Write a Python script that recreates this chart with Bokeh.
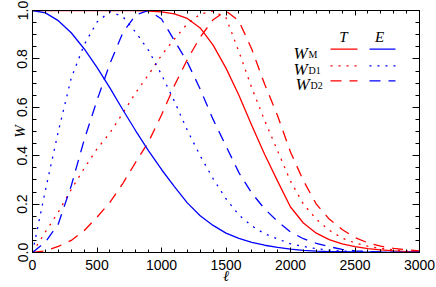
import math
from bokeh.plotting import figure
from bokeh.models import Range1d, LinearAxis, SingleIntervalTicker, PrintfTickFormatter, Label
from bokeh.embed import file_html
from bokeh.resources import INLINE

# ---------------- data ----------------
ell = [0, 100, 200, 300, 400, 500, 600, 700, 800, 900, 1000,
       1100, 1200, 1300, 1400, 1500, 1600, 1700, 1800, 1900, 2000,
       2100, 2200, 2300, 2400, 2500, 2600, 2700, 2800, 2900, 3000]

# T (red)
T_M = [1.0, 1.0, 1.0, 1.0, 1.0, 1.0, 1.0, 1.0, 1.0, 0.998, 0.994,
       0.986, 0.967, 0.928, 0.857, 0.762, 0.65, 0.525, 0.405, 0.295, 0.188,
       0.122, 0.08, 0.053, 0.036, 0.024, 0.016, 0.011, 0.007, 0.004, 0.003]
T_D1 = [0.0, 0.085, 0.167, 0.26, 0.347, 0.428, 0.494, 0.576, 0.66, 0.735, 0.815,
        0.882, 0.945, 0.985, 0.998, 0.97, 0.83, 0.68, 0.545, 0.42, 0.295,
        0.2, 0.138, 0.092, 0.06, 0.039, 0.026, 0.017, 0.011, 0.006, 0.003]
T_D2 = [0.0, 0.007, 0.025, 0.05, 0.09, 0.146, 0.207, 0.285, 0.373, 0.458, 0.568,
        0.69, 0.797, 0.89, 0.962, 0.998, 0.957, 0.84, 0.695, 0.565, 0.415,
        0.297, 0.2, 0.138, 0.095, 0.062, 0.04, 0.026, 0.017, 0.011, 0.007]

# E (blue)
E_M = [1.0, 0.99, 0.958, 0.908, 0.842, 0.765, 0.68, 0.59, 0.503, 0.42, 0.343,
       0.272, 0.205, 0.152, 0.112, 0.08, 0.058, 0.042, 0.03, 0.021, 0.014,
       0.009, 0.006, 0.004, 0.003, 0.002, 0.001, 0.001, 0.0, 0.0, 0.0]
E_D1 = [0.0, 0.257, 0.5, 0.72, 0.858, 0.952, 0.995, 0.975, 0.91, 0.835, 0.735,
        0.625, 0.505, 0.4, 0.305, 0.222, 0.155, 0.11, 0.077, 0.056, 0.036,
        0.025, 0.016, 0.01, 0.006, 0.004, 0.002, 0.001, 0.0, 0.0, 0.0]
E_D2 = [0.0, 0.043, 0.118, 0.275, 0.464, 0.629, 0.78, 0.908, 0.982, 1.0, 0.965,
        0.876, 0.787, 0.675, 0.55, 0.44, 0.33, 0.245, 0.18, 0.128, 0.085,
        0.057, 0.038, 0.024, 0.013, 0.007, 0.004, 0.002, 0.001, 0.0, 0.0]

x_ticks_major = 500
y_ticks_major = 0.2
x_title = "\u2113"
y_title = "W"

# ---------------- layout ----------------
W_FIG, H_FIG = 436, 287
ML, MR, MT, MB = 32, 17, 10, 35
FRAME_W = W_FIG - ML - MR
FRAME_H = H_FIG - MT - MB
X0, X1, Y0, Y1 = 0, 3000, 0.0, 1.0

RED = "#ff0000"
BLUE = "#0000ff"
LW = 1.3
DOT = "2 6"
DASH = "11 8"
SERIF = "Liberation Serif"

p = figure(width=W_FIG, height=H_FIG, output_backend="svg", toolbar_location=None,
           x_range=Range1d(X0, X1), y_range=Range1d(Y0, Y1),
           min_border_left=ML, min_border_right=MR, min_border_top=MT, min_border_bottom=MB)
p.background_fill_color = "white"
p.border_fill_color = "white"
p.outline_line_color = "black"
p.outline_line_width = 1
p.grid.visible = False

TICK_FONT = "Liberation Sans"

def style_axis(ax, tin, tmin, labels=True):
    ax.major_tick_in = tin
    ax.major_tick_out = 0
    ax.minor_tick_in = tmin
    ax.minor_tick_out = 0
    ax.axis_line_color = "black"
    ax.major_tick_line_color = "black"
    ax.minor_tick_line_color = "black"
    if labels:
        ax.major_label_text_font = TICK_FONT
        ax.major_label_text_font_size = "14px"
        ax.major_label_text_color = "black"
        ax.axis_label_text_font = SERIF
        ax.axis_label_text_font_style = "italic"
        ax.axis_label_text_font_size = "15px"
        ax.axis_label_text_color = "black"
    else:
        ax.major_label_text_font_size = "1px"
        ax.major_label_text_color = None
        ax.major_label_standoff = 0

xax = p.xaxis[0]
xax.ticker = SingleIntervalTicker(interval=x_ticks_major, num_minor_ticks=5)
style_axis(xax, 5, 3)
xax.major_label_standoff = 7
xax.axis_label = x_title
xax.axis_label_standoff = -5

yax = p.yaxis[0]
yax.ticker = SingleIntervalTicker(interval=y_ticks_major, num_minor_ticks=4)
yax.formatter = PrintfTickFormatter(format="%.1f")
style_axis(yax, 7, 4)
yax.major_label_orientation = "vertical"
yax.major_label_standoff = 5
yax.axis_label = y_title
yax.axis_label_standoff = -13

top = LinearAxis(ticker=SingleIntervalTicker(interval=x_ticks_major, num_minor_ticks=5))
style_axis(top, 5, 3, labels=False)
p.add_layout(top, "above")

right = LinearAxis(ticker=SingleIntervalTicker(interval=y_ticks_major, num_minor_ticks=4))
style_axis(right, 7, 4, labels=False)
p.add_layout(right, "right")

# ---------------- curves ----------------
series = [
    (T_M, RED, "solid"), (T_D1, RED, DOT), (T_D2, RED, DASH),
    (E_M, BLUE, "solid"), (E_D1, BLUE, DOT), (E_D2, BLUE, DASH),
]
for ys, col, dash in series:
    p.line(ell, ys, line_color=col, line_width=LW, line_dash=dash)

# ---------------- legend (drawn by hand) ----------------
def px2x(px):
    return X0 + (px - ML) / FRAME_W * (X1 - X0)

def py2y(py):
    return Y0 + (MT + FRAME_H - py) / FRAME_H * (Y1 - Y0)

# key positions in figure pixels
key_T = (330, 357)
key_E = (369, 395)
row_y = [48.7, 65.3, 80.3]
dashes = ["solid", DOT, DASH]
for ry, dash in zip(row_y, dashes):
    for (xa, xb), col in ((key_T, RED), (key_E, BLUE)):
        p.line([px2x(xa), px2x(xb)], [py2y(ry), py2y(ry)], line_color=col,
               line_width=LW, line_dash=dash)

def lab(text, x, y, size, style="normal", align="left", baseline="alphabetic"):
    p.add_layout(Label(x=x, y=y, x_units="screen", y_units="screen", text=text,
                       text_font=SERIF, text_font_size=size, text_font_style=style,
                       text_align=align, text_baseline=baseline, text_color="black"))

# header (screen coords relative to frame bottom-left)
lab("T", 311, 216, "15px", "italic", "center")
lab("E", 347, 216, "15px", "italic", "center")
rows = [("M", 261, 199), ("D1", 261, 183), ("D2", 263, 168)]
for sub, wx, wy in rows:
    lab("W", wx, wy, "17px", "italic")
    lab(sub, wx + 15, wy - 1, "10px")

open("out.html", "w").write(file_html(p, INLINE))
